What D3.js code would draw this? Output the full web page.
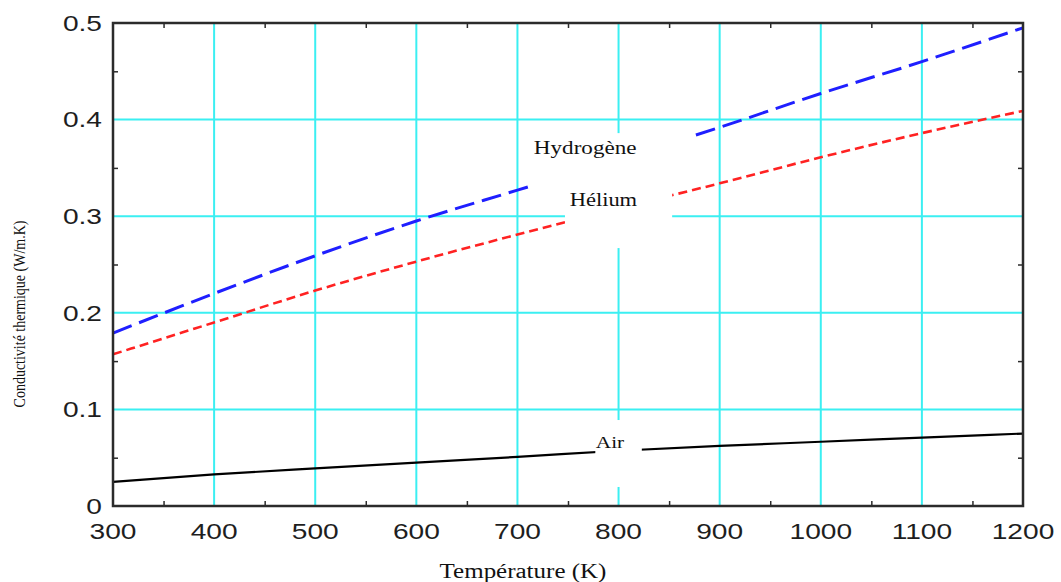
<!DOCTYPE html>
<html>
<head>
<meta charset="utf-8">
<script src="https://cdn.jsdelivr.net/npm/d3@7"></script>
<style>
    body { margin: 0; background: #fff; }
    svg { display: block; }
</style>
</head>
<body>
<div id="chart"></div>
<script>
// temperatures (K) and conductivities (W/m.K)
const temperatures = [300, 400, 500, 600, 700, 800, 900, 1000, 1100, 1200];
const hydrogene = [0.179, 0.220, 0.259, 0.295, 0.327, 0.359, 0.392, 0.427, 0.460, 0.495];
const helium = [0.157, 0.190, 0.223, 0.253, 0.281, 0.308, 0.334, 0.361, 0.386, 0.409];
const air = [0.025, 0.0327, 0.039, 0.045, 0.0508, 0.0572, 0.0622, 0.0665, 0.0708, 0.075];
const xTicks = [300, 400, 500, 600, 700, 800, 900, 1000, 1100, 1200];
const yTicks = [0, 0.1, 0.2, 0.3, 0.4, 0.5];

const svg_w = 1061, svg_h = 582;
const margin = { top: 23, right: 38, bottom: 76, left: 113 };
const width = svg_w - margin.left - margin.right,
    height = svg_h - margin.top - margin.bottom;

// the picture is stretched sideways, so texts are too
const stretch = 1.25;

const svg = d3.select("#chart")
    .append("svg")
    .attr("width", svg_w)
    .attr("height", svg_h);

const g = svg.append("g")
    .attr("transform", "translate(" + margin.left + "," + margin.top + ")");

const x = d3.scaleLinear().domain([300, 1200]).range([0, width]);
const y = d3.scaleLinear().domain([0, 0.5]).range([height, 0]);

const gridColor = "#3beff2";

// grid
g.append("g")
    .selectAll("line")
    .data(xTicks.slice(1, -1))
    .enter()
    .append("line")
    .attr("x1", d => x(d)).attr("x2", d => x(d))
    .attr("y1", 0).attr("y2", height)
    .attr("stroke", gridColor)
    .attr("stroke-width", 2);

g.append("g")
    .selectAll("line")
    .data(yTicks.slice(1, -1))
    .enter()
    .append("line")
    .attr("x1", 0).attr("x2", width)
    .attr("y1", d => y(d)).attr("y2", d => y(d))
    .attr("stroke", gridColor)
    .attr("stroke-width", 2);

// minor ticks, inward on all four sides
const xMinor = d3.range(350, 1200, 100);
const yMinor = d3.range(0.05, 0.5, 0.1);
const tickLen = 5;
const frame = "#2b2b2b";

g.append("g").call(d3.axisBottom(x).tickValues(xMinor).tickSize(-tickLen).tickFormat(""))
    .attr("transform", "translate(0," + height + ")")
    .call(s => s.select(".domain").remove());
g.append("g").call(d3.axisTop(x).tickValues(xMinor).tickSize(-tickLen).tickFormat(""))
    .call(s => s.select(".domain").remove());
g.append("g").call(d3.axisLeft(y).tickValues(yMinor).tickSize(-tickLen).tickFormat(""))
    .call(s => s.select(".domain").remove());
g.append("g").call(d3.axisRight(y).tickValues(yMinor).tickSize(-tickLen).tickFormat(""))
    .attr("transform", "translate(" + width + ",0)")
    .call(s => s.select(".domain").remove());
g.selectAll(".tick line").attr("stroke", frame).attr("stroke-width", 1.5);

// series
const line = d3.line()
    .x((d, i) => x(temperatures[i]))
    .y(d => y(d))
    .curve(d3.curveMonotoneX);

g.append("path")
    .datum(hydrogene)
    .attr("d", line)
    .attr("fill", "none")
    .attr("stroke", "#1f1fff")
    .attr("stroke-width", 3)
    .attr("stroke-dasharray", "20,8");

g.append("path")
    .datum(helium)
    .attr("d", line)
    .attr("fill", "none")
    .attr("stroke", "#ff2222")
    .attr("stroke-width", 2.6)
    .attr("stroke-dasharray", "9,5");

g.append("path")
    .datum(air)
    .attr("d", line)
    .attr("fill", "none")
    .attr("stroke", "#000")
    .attr("stroke-width", 2.2);

// label backgrounds cut the grid and the curves
const labels = [
    { text: "Hydrogène", t: 767, v: 0.3706, size: 18.5, box: [712, 871, 0.386, 0.329] },
    { text: "Hélium", t: 785, v: 0.3168, size: 18, box: [747, 853, 0.332, 0.267] },
    { text: "Air", t: 791.5, v: 0.0652, size: 17, box: [777, 823, 0.089, 0.0197] },
];

g.selectAll(".lbl-bg")
    .data(labels)
    .enter()
    .append("rect")
    .attr("class", "lbl-bg")
    .attr("x", d => x(d.box[0]))
    .attr("y", d => y(d.box[2]))
    .attr("width", d => x(d.box[1]) - x(d.box[0]))
    .attr("height", d => y(d.box[3]) - y(d.box[2]))
    .attr("fill", "#fff");

g.selectAll(".lbl")
    .data(labels)
    .enter()
    .append("text")
    .attr("class", "lbl")
    .attr("transform", d => "translate(" + x(d.t) + "," + y(d.v) + ") scale(" + stretch + ",1)")
    .attr("text-anchor", "middle")
    .attr("dy", "0.32em")
    .style("font-family", "'Liberation Serif', 'Times New Roman', serif")
    .style("font-size", d => d.size + "px")
    .style("fill", "#111")
    .text(d => d.text);

// frame
g.append("rect")
    .attr("x", 0).attr("y", 0)
    .attr("width", width).attr("height", height)
    .attr("fill", "none")
    .attr("stroke", frame)
    .attr("stroke-width", 2.5);

// tick labels
g.append("g")
    .selectAll("text")
    .data(xTicks)
    .enter()
    .append("text")
    .attr("transform", d => "translate(" + x(d) + "," + (height + 33) + ") scale(" + stretch + ",1)")
    .attr("text-anchor", "middle")
    .style("font-family", "'Liberation Sans', Arial, sans-serif")
    .style("font-size", "22.5px")
    .style("fill", "#1e1e1e")
    .text(d => d);

g.append("g")
    .selectAll("text")
    .data(yTicks)
    .enter()
    .append("text")
    .attr("transform", d => "translate(-11," + y(d) + ") scale(" + stretch + ",1)")
    .attr("dy", "0.35em")
    .attr("text-anchor", "end")
    .style("font-family", "'Liberation Sans', Arial, sans-serif")
    .style("font-size", "22.5px")
    .style("fill", "#1e1e1e")
    .text(d => d === 0 ? "0" : d3.format(".1f")(d));

// axis titles
svg.append("text")
    .attr("transform", "translate(523,578) scale(" + stretch + ",1)")
    .attr("text-anchor", "middle")
    .style("font-family", "'Liberation Serif', 'Times New Roman', serif")
    .style("font-size", "20px")
    .style("fill", "#111")
    .text("Température (K)");

svg.append("text")
    .attr("transform", "translate(25,314) rotate(-90) scale(1," + stretch + ")")
    .attr("text-anchor", "middle")
    .style("font-family", "'Liberation Serif', 'Times New Roman', serif")
    .style("font-size", "14px")
    .style("fill", "#111")
    .text("Conductivité thermique (W/m.K)");
</script>
</body>
</html>
